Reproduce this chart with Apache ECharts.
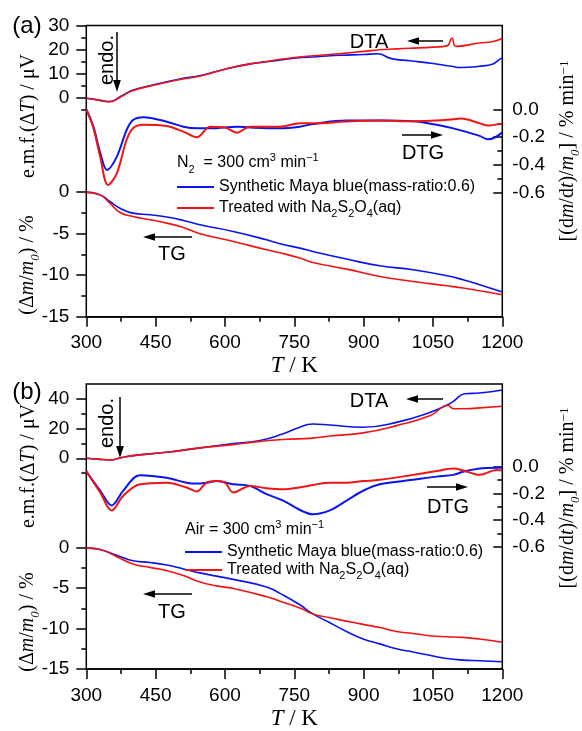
<!DOCTYPE html>
<html><head><meta charset="utf-8">
<script src="https://cdn.jsdelivr.net/npm/echarts@6/dist/echarts.min.js"></script>
<style>html,body{margin:0;padding:0;background:#fff}#c{width:582px;height:731px}</style>
</head><body><div id="c"></div>
<script>
// ---------- DATA ----------
const blueName = 'Synthetic Maya blue(mass-ratio:0.6)';
const redName = 'Treated with Na2S2O4(aq)';
const xTicks = [300, 450, 600, 750, 900, 1050, 1200];

// Panel (a): N2
const aDtaBlueT = [300, 325, 350, 375, 400, 450, 500, 550, 600, 650, 700, 750, 800, 850, 900, 930, 960, 1000, 1050, 1090, 1110, 1150, 1180, 1195, 1200];
const aDtaBlueV = [-0.3, -1.0, -1.7, 0.5, 3.0, 5.5, 7.6, 9.3, 11.8, 13.8, 15.1, 16.4, 17.0, 17.6, 17.9, 18.2, 16.2, 15.3, 14.2, 13.0, 12.5, 13.0, 14.0, 16.0, 16.4];
const aDtaRedT = [300, 325, 350, 375, 400, 450, 500, 550, 600, 650, 700, 750, 800, 850, 900, 935, 1000, 1050, 1080, 1091, 1100, 1150, 1180, 1200];
const aDtaRedV = [-0.3, -1.0, -1.8, 0.3, 2.8, 5.3, 7.4, 9.1, 11.8, 13.9, 15.3, 16.7, 17.5, 18.3, 19.2, 19.9, 20.5, 21.0, 21.5, 24.7, 21.3, 22.7, 23.3, 24.7];

const aDtgBlueT = [300, 315, 330, 345, 366, 387, 401, 423, 474, 510, 540, 570, 626, 654, 719, 762, 790, 863, 935, 1007, 1058, 1094, 1151, 1169, 1185, 1200];
const aDtgBlueV = [0.0, -0.12, -0.31, -0.436, -0.34, -0.15, -0.076, -0.056, -0.088, -0.124, -0.136, -0.136, -0.124, -0.13, -0.136, -0.124, -0.105, -0.08, -0.08, -0.085, -0.11, -0.136, -0.19, -0.215, -0.2, -0.165];
const aDtgRedT = [300, 315, 330, 347, 366, 387, 401, 423, 474, 510, 539, 568, 600, 626, 654, 719, 762, 790, 863, 935, 1007, 1058, 1094, 1111, 1151, 1169, 1200];
const aDtgRedV = [0.0, -0.13, -0.34, -0.544, -0.46, -0.22, -0.135, -0.11, -0.119, -0.16, -0.2, -0.124, -0.13, -0.167, -0.124, -0.124, -0.1, -0.1, -0.087, -0.08, -0.085, -0.08, -0.07, -0.065, -0.1, -0.115, -0.1];

const aTgBlueT = [300, 330, 351, 373, 401, 438, 474, 510, 546, 618, 690, 719, 762, 790, 863, 935, 1007, 1080, 1115, 1151, 1200];
const aTgBlueV = [0, -0.33, -1.13, -1.93, -2.53, -2.73, -3.0, -3.41, -3.93, -4.74, -5.74, -6.22, -6.74, -7.14, -8.06, -8.87, -9.35, -10.07, -10.55, -11.15, -12.03];
const aTgRedT = [300, 330, 351, 373, 401, 438, 474, 510, 546, 618, 690, 719, 762, 790, 863, 935, 1007, 1080, 1115, 1151, 1200];
const aTgRedV = [0, -0.33, -1.33, -2.45, -2.93, -3.33, -3.73, -4.25, -5.0, -5.94, -6.94, -7.3, -7.94, -8.47, -9.27, -10.15, -10.76, -11.28, -11.55, -11.88, -12.36];

// Panel (b): Air
const bDtaBlueT = [300, 325, 351, 375, 401, 474, 546, 618, 676, 726, 756, 790, 827, 899, 971, 1043, 1083, 1094, 1119, 1151, 1200];
const bDtaBlueV = [0, -0.6, -1.1, 0.3, 1.8, 4.0, 7.0, 9.9, 12.0, 16.5, 20.2, 23.1, 22.4, 20.9, 24.2, 30.8, 36.3, 38.4, 43.5, 44.0, 46.1];
const bDtaRedT = [300, 325, 351, 375, 401, 474, 546, 618, 676, 726, 790, 827, 899, 971, 1043, 1083, 1094, 1119, 1151, 1200];
const bDtaRedV = [0, -0.6, -1.1, 0.3, 1.8, 4.0, 7.0, 9.2, 11.4, 12.7, 13.6, 15.0, 17.1, 22.0, 28.6, 35.6, 33.4, 33.4, 34.0, 35.1];

const bDtgBlueT = [300, 330, 355, 380, 416, 474, 517, 539, 560, 582, 618, 654, 690, 726, 760, 790, 827, 863, 899, 935, 1007, 1058, 1094, 1115, 1151, 1187, 1200];
const bDtgBlueV = [-0.036, -0.18, -0.29, -0.18, -0.065, -0.085, -0.121, -0.128, -0.121, -0.109, -0.133, -0.145, -0.206, -0.254, -0.32, -0.356, -0.327, -0.254, -0.181, -0.133, -0.1, -0.076, -0.063, -0.04, -0.015, -0.01, -0.01];
const bDtgRedT = [300, 330, 355, 380, 416, 474, 517, 539, 560, 582, 600, 618, 654, 690, 726, 760, 790, 827, 863, 899, 935, 1007, 1058, 1094, 1115, 1151, 1187, 1200];
const bDtgRedV = [-0.036, -0.194, -0.327, -0.218, -0.133, -0.121, -0.157, -0.186, -0.121, -0.109, -0.12, -0.194, -0.145, -0.162, -0.17, -0.157, -0.138, -0.121, -0.121, -0.109, -0.1, -0.063, -0.034, -0.015, -0.03, -0.063, -0.027, -0.03];

const bTgBlueT = [300, 330, 366, 401, 438, 474, 510, 546, 582, 618, 690, 719, 762, 790, 827, 863, 899, 935, 971, 1007, 1043, 1080, 1115, 1151, 1200];
const bTgBlueV = [0, -0.2, -0.92, -1.6, -1.81, -2.13, -2.61, -3.1, -3.5, -3.9, -4.84, -5.64, -7.05, -8.18, -9.27, -10.36, -11.28, -11.89, -12.49, -12.9, -13.3, -13.7, -13.9, -13.98, -14.1];
const bTgRedT = [300, 330, 366, 401, 438, 474, 510, 546, 582, 618, 690, 719, 762, 790, 827, 863, 899, 935, 971, 1007, 1043, 1080, 1115, 1151, 1200];
const bTgRedV = [0, -0.2, -1.09, -2.0, -2.42, -2.82, -3.42, -4.23, -4.71, -5.03, -6.05, -6.6, -7.45, -8.18, -8.66, -9.07, -9.47, -9.87, -10.35, -10.6, -10.88, -11.0, -11.08, -11.28, -11.68];

// tick label values
const aDtaTicks = [0, 10, 20, 30];
const aDtaMinor = [-5, 5, 15, 25];
const bDtaTicks = [0, 20, 40];
const bDtaMinor = [-10, 10, 30];
const tgTicks = [0, -5, -10, -15];
const tgMinor = [-2.5, -7.5, -12.5];
const dtgTicks = [0, -0.2, -0.4, -0.6];
const dtgMinor = [-0.1, -0.3, -0.5];

// ---------- LAYOUT ----------
const SANS = '"Liberation Sans", Arial, sans-serif';
const SERIF = '"Liberation Serif", "Times New Roman", serif';
const BLUE = '#0a14f0', RED = '#f01414';
const panels = [
  { top: 25.5, height: 291.2, dta: [-91.33, 30], tg: [-15, 20.07], dtg: [-1.493, 0.605], dtaTicks: aDtaTicks, dtaMinor: aDtaMinor },
  { top: 384, height: 291.7, dta: [-142.2, 50.1], tg: [-15, 20.29], dtg: [-1.505, 0.612], dtaTicks: bDtaTicks, dtaMinor: bDtaMinor }
];
const GL = 86.3, GW = 416;

const grids = [], xAxes = [], yAxes = [];
const tickLine = { color: '#000', width: 1.5 };
function yAx(g, pos, range, vals, len, inside, showLabel, fmt) {
  return {
    type: 'value', gridIndex: g, position: pos, min: range[0], max: range[1],
    axisLine: { show: false, onZero: false },
    splitLine: { show: false },
    axisTick: { show: true, customValues: vals, length: len, inside: inside, lineStyle: tickLine },
    axisLabel: showLabel ? { show: true, customValues: vals, formatter: fmt, fontSize: 19, fontFamily: SANS, color: '#000', margin: pos === 'left' ? 17 : 10 } : { show: false }
  };
}
panels.forEach((p, i) => {
  grids.push({ left: GL, top: p.top, width: GW, height: p.height, show: true, borderColor: '#000', borderWidth: 1.5, backgroundColor: 'transparent' });
  xAxes.push({
    type: 'value', gridIndex: i, min: 300, max: 1200, interval: 150,
    axisLine: { show: true, onZero: false, lineStyle: tickLine },
    axisTick: { show: true, length: 10, lineStyle: tickLine },
    minorTick: { show: true, splitNumber: 2, length: 5, lineStyle: tickLine },
    splitLine: { show: false },
    axisLabel: { fontSize: 19, fontFamily: SANS, color: '#000', margin: 17, customValues: xTicks, formatter: v => String(v) },
    name: '{i|T} / K', nameLocation: 'middle', nameGap: 38,
    nameTextStyle: { fontSize: 23, fontFamily: SERIF, color: '#000', rich: { i: { fontSize: 23, fontFamily: SERIF, fontStyle: 'italic', color: '#000' } } }
  });
  yAxes.push(yAx(i, 'left', p.dta, p.dtaTicks, 10, false, true, v => String(v)));
  yAxes.push(yAx(i, 'left', p.dta, p.dtaMinor, 5, false, false));
  yAxes.push(yAx(i, 'left', p.tg, tgTicks, 10, false, true, v => String(v)));
  yAxes.push(yAx(i, 'left', p.tg, tgMinor, 5, false, false));
  yAxes.push(yAx(i, 'right', p.dtg, dtgTicks, 9, true, true, v => v.toFixed(1)));
  yAxes.push(yAx(i, 'right', p.dtg, dtgMinor, 5, true, false));
});

function pairs(T, V) { return T.map((t, k) => [t, V[k]]); }
const series = [];
function addS(panel, kind, name, color, T, V) {
  const yi = panel * 6 + (kind === 'dta' ? 0 : kind === 'tg' ? 2 : 4);
  series.push({
    type: 'line', name: name, xAxisIndex: panel, yAxisIndex: yi,
    data: pairs(T, V), showSymbol: false, symbol: 'none',
    smooth: kind === 'dtg' ? 0.35 : 0.5,
    lineStyle: { color: color, width: kind === 'dtg' ? 2 : 1.6 }, itemStyle: { color: color },
    z: color === RED ? 3 : 2, animation: false
  });
}
addS(0, 'dta', blueName, BLUE, aDtaBlueT, aDtaBlueV);
addS(0, 'dta', redName, RED, aDtaRedT, aDtaRedV);
addS(0, 'dtg', blueName, BLUE, aDtgBlueT, aDtgBlueV);
addS(0, 'dtg', redName, RED, aDtgRedT, aDtgRedV);
addS(0, 'tg', blueName, BLUE, aTgBlueT, aTgBlueV);
addS(0, 'tg', redName, RED, aTgRedT, aTgRedV);
addS(1, 'dta', blueName, BLUE, bDtaBlueT, bDtaBlueV);
addS(1, 'dta', redName, RED, bDtaRedT, bDtaRedV);
addS(1, 'dtg', blueName, BLUE, bDtgBlueT, bDtgBlueV);
addS(1, 'dtg', redName, RED, bDtgRedT, bDtgRedV);
addS(1, 'tg', blueName, BLUE, bTgBlueT, bTgBlueV);
addS(1, 'tg', redName, RED, bTgRedT, bTgRedV);

const legRich = {
  n: { fontSize: 16, fontFamily: SANS, color: '#000', lineHeight: 16 },
  s: { fontSize: 11, fontFamily: SANS, color: '#000', verticalAlign: 'bottom', lineHeight: 11, padding: [0, 0, -3, 0] }
};
function legFmt(name) {
  return name === redName ? '{n|Treated with Na}{s|2}{n|S}{s|2}{n|O}{s|4}{n|(aq)}' : '{n|' + name + '}';
}
function legend(left, top, gap) {
  return {
    left: left, top: top, orient: 'vertical', data: [blueName, redName], selectedMode: false,
    icon: 'rect', itemWidth: 37, itemHeight: 2, itemGap: gap, padding: 0,
    textStyle: { fontSize: 16, fontFamily: SANS, color: '#000', rich: legRich },
    formatter: legFmt
  };
}

// ---------- ANNOTATIONS ----------
const gr = [];
const richT = {
  i: { fontFamily: SERIF, fontStyle: 'italic', fontSize: 20, color: '#000' },
  r: { fontFamily: SERIF, fontSize: 20, color: '#000' },
  is: { fontFamily: SERIF, fontStyle: 'italic', fontSize: 13, color: '#000', verticalAlign: 'bottom', lineHeight: 13, padding: [0, 0, -4, 0] },
  sup: { fontFamily: SERIF, fontSize: 13, color: '#000', verticalAlign: 'top', lineHeight: 13 }
};
function txt(x, y, text, opts) {
  gr.push({ type: 'text', x: x, y: y, silent: true,
    style: Object.assign({ text: text, fill: '#000', align: 'center', verticalAlign: 'middle', font: '20px ' + SANS }, opts || {}) });
}
function vtxt(x, y, text, style) {
  gr.push({ type: 'text', x: x, y: y, rotation: Math.PI / 2, silent: true,
    style: Object.assign({ text: text, fill: '#000', align: 'center', verticalAlign: 'middle' }, style) });
}
function arrow(x1, y1, x2, y2) {
  const dx = x2 - x1, dy = y2 - y1, L = Math.hypot(dx, dy), ux = dx / L, uy = dy / L;
  const hl = 12, hw = 3.8;
  const bx = x2 - ux * hl, by = y2 - uy * hl;
  gr.push({ type: 'line', silent: true, shape: { x1: x1, y1: y1, x2: bx, y2: by }, style: { stroke: '#000', lineWidth: 1.5 } });
  gr.push({ type: 'polygon', silent: true, shape: { points: [[x2, y2], [bx - uy * hw, by + ux * hw], [bx + uy * hw, by - ux * hw]] }, style: { fill: '#000' } });
}
const titleStyle = { fontFamily: SERIF, fontSize: 20, rich: richT };
[[0, 116, 265, 151], [1, 466, 622, 498]].forEach(([i, yDta, yTg, yDtg]) => {
  vtxt(29, yDta, '{r|e.m.f.(Δ}{i|T}{r|) / μV}', titleStyle);
  vtxt(28, yTg, '{r|(Δ}{i|m}{r|/}{i|m}{is|0}{r|) / %}', titleStyle);
  vtxt(568, yDtg, '{r|[(d}{i|m}{r|/d}{i|t}{r|)/}{i|m}{is|0}{r|] / % min}{sup|−1}', titleStyle);
});
const ann = [
  { lab: '(a)', lx: 27, ly: 26, endo: [107, 60, 117, 32, 92], dta: [369, 42, 443, 407, 41], dtg: [423, 153, 402, 443, 135], tg: [172, 254, 192, 143, 237] },
  { lab: '(b)', lx: 27, ly: 392, endo: [107, 423, 120, 397, 458], dta: [369, 401, 443, 406, 399], dtg: [448, 507, 427, 468, 487], tg: [172, 612, 192, 143, 594] }
];
ann.forEach(a => {
  txt(a.lx, a.ly, a.lab, { font: '24px ' + SANS });
  vtxt(a.endo[0], a.endo[1], 'endo.', { font: '20px ' + SANS });
  arrow(a.endo[2], a.endo[3], a.endo[2], a.endo[4]);
  txt(a.dta[0], a.dta[1], 'DTA'); arrow(a.dta[2], a.dta[4], a.dta[3], a.dta[4]);
  txt(a.dtg[0], a.dtg[1], 'DTG'); arrow(a.dtg[2], a.dtg[4], a.dtg[3], a.dtg[4]);
  txt(a.tg[0], a.tg[1], 'TG'); arrow(a.tg[2], a.tg[4], a.tg[3], a.tg[4]);
});
const condRich = {
  n: { fontSize: 16, fontFamily: SANS, color: '#000', lineHeight: 18 },
  s: { fontSize: 11, fontFamily: SANS, color: '#000', verticalAlign: 'bottom', lineHeight: 11, padding: [0, 0, -3, 0] },
  p: { fontSize: 11, fontFamily: SANS, color: '#000', verticalAlign: 'top', lineHeight: 11, padding: [-2, 0, 0, 0] }
};
gr.push({ type: 'text', x: 177, y: 163, silent: true, style: { text: '{n|N}{s|2}{n|  = 300 cm}{p|3}{n| min}{p|−1}', rich: condRich, align: 'left', verticalAlign: 'middle', fill: '#000' } });
gr.push({ type: 'text', x: 185, y: 530, silent: true, style: { text: '{n|Air = 300 cm}{p|3}{n| min}{p|−1}', rich: condRich, align: 'left', verticalAlign: 'middle', fill: '#000' } });

const chart = echarts.init(document.getElementById('c'), null, { renderer: 'canvas' });
chart.setOption({
  backgroundColor: '#fff',
  animation: false,
  grid: grids, xAxis: xAxes, yAxis: yAxes, series: series,
  legend: [legend(177, 179, 5), legend(185, 544, 2)],
  graphic: gr
});
</script></body></html>
